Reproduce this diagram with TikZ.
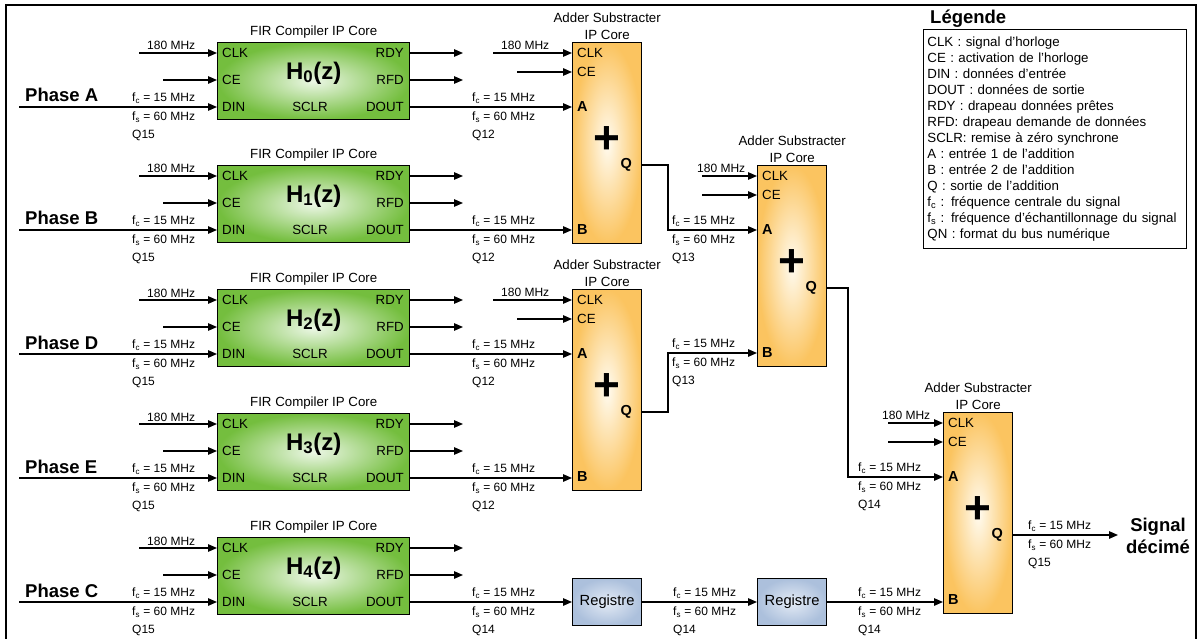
\documentclass[tikz,border=0pt]{standalone}
\usepackage{fontspec}
\setmainfont{Liberation Sans}
\usepackage{tikz}
\usetikzlibrary{arrows.meta,positioning,calc}
\definecolor{firgreen}{RGB}{116,190,62}
\definecolor{firlight}{RGB}{236,247,230}
\definecolor{addorange}{RGB}{251,196,96}
\definecolor{addlight}{RGB}{255,251,240}
\definecolor{regblue}{RGB}{172,192,220}
\definecolor{reglight}{RGB}{228,235,245}

\begin{document}
\begin{tikzpicture}[x=1pt, y=-1pt,
    every node/.style={font=\fontsize{13.3}{16}\selectfont, inner sep=0pt},
    firbox/.style={draw, line width=1.4pt, inner color=firlight, outer color=firgreen, minimum width=192pt, minimum height=77pt, anchor=north west},
    addbox/.style={draw, line width=1.4pt, inner color=addlight, outer color=addorange, minimum width=69pt, minimum height=201pt, anchor=north west},
    regbox/.style={draw, line width=1.2pt, inner color=reglight, outer color=regblue, minimum width=69pt, minimum height=47pt, anchor=north west, font=\fontsize{14.7}{17}\selectfont},
    captxt/.style={anchor=south, align=center, font=\fontsize{13.3}{17.5}\selectfont},
    hname/.style={font=\bfseries\fontsize{24}{28}\selectfont},
    plussign/.style={font=\bfseries\fontsize{46}{46}\selectfont},
    iotxt/.style={font=\bfseries\fontsize{14.5}{16}\selectfont},
    clktxt/.style={anchor=base west, font=\fontsize{12}{14}\selectfont},
    ratetxt/.style={anchor=north west, align=left, font=\fontsize{12}{18.5}\selectfont},
    phasetxt/.style={anchor=base west, font=\bfseries\fontsize{18.5}{22}\selectfont},
    sig/.style={line width=1.3pt, -{Triangle[length=9pt,width=7.5pt]}}]
        % Frame
        \useasboundingbox (0,0) rectangle (1202,639);
        \draw[line width=2pt] (6,639) -- (6,5.5) -- (1196,5.5) -- (1196,639);
        % FIR filters
        \foreach \i/\t/\ph in {0/42/A,1/165/B,2/289/D,3/413/E,4/537/C}{
            \node[firbox] (h\i) at (217,\t) {};
            \node[captxt] (ht\i) at ([yshift=3.5pt]h\i.north) {FIR Compiler IP Core};
            \node[hname] (hn\i) at ([yshift=-31pt]h\i.north) {H\textsubscript{\i}(z)};
            \node[anchor=west] (hclk\i) at (222,\t+11) {CLK};
            \node[anchor=west] (hce\i) at (222,\t+38) {CE};
            \node[anchor=west] (hdin\i) at (222,\t+65) {DIN};
            \node (hsclr\i) at (310,\t+65) {SCLR};
            \node[anchor=east] (hrdy\i) at (404,\t+11) {RDY};
            \node[anchor=east] (hrfd\i) at (404,\t+38) {RFD};
            \node[anchor=east] (hdout\i) at (404,\t+65) {DOUT};
            \coordinate (clkin\i) at (139,\t+11);
            \coordinate (cein\i) at (163,\t+38);
            \coordinate (din\i) at (19,\t+65);
            \coordinate (rdy\i) at (463,\t+11);
            \coordinate (rfd\i) at (463,\t+38);
            \coordinate (dout\i) at (409,\t+65);
            \draw[sig] (clkin\i) -- (clkin\i -| h\i.west);
            \draw[sig] (cein\i) -- (cein\i -| h\i.west);
            \draw[sig] (din\i) -- (din\i -| h\i.west);
            \draw[sig] (rdy\i -| h\i.east) -- (rdy\i);
            \draw[sig] (rfd\i -| h\i.east) -- (rfd\i);
            \node[clktxt] (hmhz\i) at (147,\t+8) {180 MHz};
            \node[phasetxt] (ph\i) at (25,\t+60) {Phase \ph};
            \node[ratetxt] (hrate\i) at (132,\t+51) {f\textsubscript{c} = 15 MHz\\f\textsubscript{s} = 60 MHz\\Q15};
        }
        % Adders
        \foreach \n/\x/\t/\c/\l in {1/572/42/79/71, 2/572/289/79/71, 3/757/165/55/60, 4/943/412/55/61}{
            \node[addbox] (add\n) at (\x,\t) {};
            \node[captxt] (at\n) at ([yshift=2pt]add\n.north) {Adder Substracter\\IP Core};
            \node[plussign] (p\n) at ([yshift=-98pt]add\n.north) {+};
            \node[anchor=west] (aclk\n) at (\x+5,\t+11) {CLK};
            \node[anchor=west] (ace\n) at (\x+5,\t+30) {CE};
            \node[iotxt, anchor=west] (aa\n) at (\x+5,\t+65) {A};
            \node[iotxt, anchor=west] (ab\n) at (\x+5,\t+188) {B};
            \node[iotxt, anchor=east] (aq\n) at (\x+60,\t+123) {Q};
            \coordinate (aclkin\n) at (\x-\c,\t+11);
            \coordinate (acein\n) at (\x-55,\t+30);
            \coordinate (ina\n) at (\x,\t+65);
            \coordinate (inb\n) at (\x,\t+188);
            \coordinate (outq\n) at (\x+69,\t+123);
            \draw[sig] (aclkin\n) -- (aclkin\n -| add\n.west);
            \draw[sig] (acein\n) -- (acein\n -| add\n.west);
            \node[clktxt] (amhz\n) at (\x-\l,\t+7.5) {180 MHz};
        }
        % Registers
        \node[regbox] (reg1) at (572,578) {Registre};
        \node[regbox] (reg2) at (757,578) {Registre};
        % Data paths
        \draw[sig] (dout0) -- (dout0 -| add1.west);
        \draw[sig] (dout1) -- (dout1 -| add1.west);
        \draw[sig] (dout2) -- (dout2 -| add2.west);
        \draw[sig] (dout3) -- (dout3 -| add2.west);
        \draw[sig] (dout4) -- (dout4 -| reg1.west);
        \draw[sig] (dout4 -| reg1.east) -- (dout4 -| reg2.west);
        \draw[sig] (dout4 -| reg2.east) -- (dout4 -| add4.west);
        \draw[sig] (outq1) -- ++(27,0) |- (ina3);
        \draw[sig] (outq2) -- ++(27,0) |- (inb3);
        \draw[sig] (outq3) -- ++(22,0) |- (ina4);
        \coordinate (sout) at (1118,535);
        \draw[sig] (outq4) -- (sout);
        \node[phasetxt, anchor=center, align=center] (sig) at (1158,536) {Signal\\décimé};
        % Bus formats
        \foreach \x/\y/\q [count=\k] in {472/107/12, 472/230/12, 472/354/12, 472/478/12, 472/602/14, 673/602/14, 858/602/14, 672/230/13, 672/353/13, 858/477/14, 1028/535/15}{
            \node[ratetxt] (rate\k) at (\x,\y-14) {f\textsubscript{c} = 15 MHz\\f\textsubscript{s} = 60 MHz\\Q\q};
        }
        % Legend
        \node[draw, line width=0.8pt, anchor=north west, align=left, text width=255pt, inner xsep=4pt, minimum height=219pt, font=\fontsize{13.3}{16}\selectfont] (legend) at (923,29)
            {CLK : signal d'horloge\\CE : activation de l'horloge\\DIN : données d'entrée\\DOUT : données de sortie\\RDY : drapeau données prêtes\\RFD: drapeau demande de données\\SCLR: remise à zéro synchrone\\A : entrée 1 de l'addition\\B : entrée 2 de l'addition\\Q : sortie de l'addition\\f\textsubscript{c} : fréquence centrale du signal\\f\textsubscript{s} : fréquence d'échantillonnage du signal\\QN : format du bus numérique};
        \node[phasetxt] (legtitle) at (930,23.5) {Légende};
    \end{tikzpicture}
\end{document}
